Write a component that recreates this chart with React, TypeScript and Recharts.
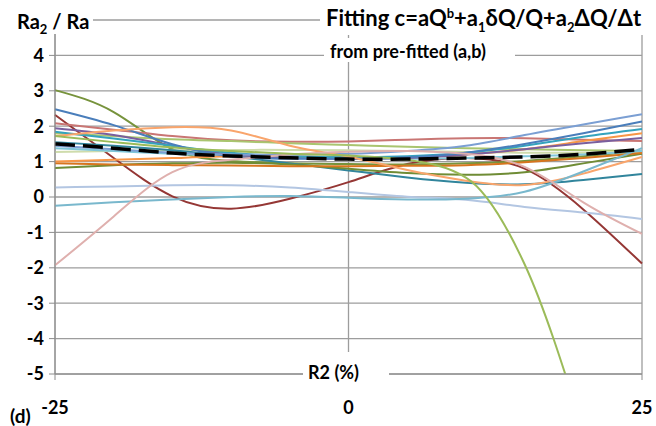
import React from 'react'
import { LineChart, Line, XAxis, YAxis, CartesianGrid } from 'recharts'

// R2 (%) sample positions
const xs = [-25, -20, -15, -10, -5, 0, 5, 10, 15, 20, 25]

// Ra2 / Ra curves, read at each x above
const darkRed = [2.32, 1.1, 0.02, -0.33, -0.05, 0.42, 0.93, 1.1, 0.8, -0.35, -1.88]
const olive = [3.02, 2.4, 1.35, 1.02, 0.95, 0.93, 0.92, 0.95, 1.02, 1.15, 1.3]
const blue = [2.48, 2.03, 1.49, 1.15, 1.08, 1.08, 1.12, 1.25, 1.5, 1.8, 2.13]
const rose = [2.08, 1.9, 1.72, 1.6, 1.56, 1.57, 1.62, 1.66, 1.66, 1.62, 1.58]
const purple = [1.94, 1.75, 1.45, 1.2, 1.1, 1.08, 1.1, 1.2, 1.35, 1.52, 1.67]
const aqua = [1.84, 1.65, 1.45, 1.25, 1.15, 1.12, 1.15, 1.25, 1.45, 1.7, 1.92]
const lightOrange = [1.72, 1.88, 1.97, 1.88, 1.45, 1.14, 0.76, 0.46, 0.34, 0.66, 1.13]
const orange = [1.0, 1.05, 1.1, 1.15, 1.15, 1.12, 1.12, 1.2, 1.35, 1.58, 1.8]
const darkOrange = [0.95, 0.92, 0.9, 0.89, 0.87, 0.87, 0.88, 0.9, 0.98, 1.1, 1.24]
const darkGreen = [0.82, 0.9, 0.95, 0.97, 0.92, 0.8, 0.68, 0.63, 0.7, 0.95, 1.22]
const paleBlue = [0.27, 0.3, 0.33, 0.33, 0.27, 0.14, 0.01, -0.08, -0.28, -0.44, -0.62]
const skyBlue = [-0.25, -0.15, -0.07, 0.0, 0.03, -0.02, -0.07, -0.05, 0.15, 0.72, 1.38]
const pink = [-1.93, -0.55, 0.7, 1.05, 1.2, 1.28, 1.3, 1.22, 0.85, -0.15, -1.04]
const steelBlue = [1.45, 1.35, 1.25, 1.2, 1.2, 1.22, 1.3, 1.45, 1.75, 2.05, 2.34]
const darkTeal = [1.55, 1.45, 1.32, 1.15, 0.95, 0.75, 0.55, 0.4, 0.36, 0.48, 0.65]
const paleGreen = [1.27, 1.3, 1.32, 1.33, 1.33, 1.32, 1.3, 1.27, 1.25, 1.25, 1.27]
const green = [1.8, 1.72, 1.63, 1.58, 1.52, 1.47, 1.42, 1.38, 1.35, 1.32, 1.3]
const lightAqua = [1.38, 1.3, 1.22, 1.15, 1.12, 1.1, 1.08, 1.1, 1.15, 1.2, 1.3]
const greenDrop = [1.72, 1.55, 1.4, 1.3, 1.22, 1.17, 1.05, 0.55, -1.9, -6.6, null]
const mean = [1.5, 1.38, 1.24, 1.16, 1.11, 1.07, 1.07, 1.1, 1.13, 1.21, 1.35]

const yTicks = [-5, -4, -3, -2, -1, 0, 1, 2, 3, 4, 5]
const xTicks = [-25, 0, 25]

const series = [
  { key: 'darkRed', vals: darkRed, color: '#953735' },
  { key: 'olive', vals: olive, color: '#77933c' },
  { key: 'rose', vals: rose, color: '#c97674' },
  { key: 'green', vals: green, color: '#a9c56f' },
  { key: 'paleGreen', vals: paleGreen, color: '#cfdcac' },
  { key: 'darkTeal', vals: darkTeal, color: '#31859c' },
  { key: 'lightAqua', vals: lightAqua, color: '#7fc6d9' },
  { key: 'darkGreen', vals: darkGreen, color: '#6f8c35' },
  { key: 'darkOrange', vals: darkOrange, color: '#d7751e' },
  { key: 'orange', vals: orange, color: '#f79646' },
  { key: 'purple', vals: purple, color: '#7a5f9e' },
  { key: 'aqua', vals: aqua, color: '#34a3bd' },
  { key: 'blue', vals: blue, color: '#4a7ebb' },
  { key: 'steelBlue', vals: steelBlue, color: '#7b9fd3' },
  { key: 'lightOrange', vals: lightOrange, color: '#f9a56c' },
  { key: 'paleBlue', vals: paleBlue, color: '#b3c6e2' },
  { key: 'skyBlue', vals: skyBlue, color: '#79b8cd' },
  { key: 'pink', vals: pink, color: '#dfb0ae' },
]

const data = xs.map((x, i) => {
  const row: any = { x, greenDrop: greenDrop[i], mean: mean[i] }
  series.forEach(s => { row[s.key] = s.vals[i] })
  return row
})

const bold: React.CSSProperties = { fontWeight: 700, color: '#000', whiteSpace: 'nowrap', lineHeight: 1 }
const tickStyle = { fill: '#000', fontSize: 18, fontWeight: 700, fontFamily: 'Lato' }

export default function App() {
  return (
    <div style={{ position: 'absolute', left: 0, top: 0, width: 656, height: 426, background: '#fff', fontFamily: 'Lato, sans-serif' }}>
      <LineChart width={656} height={426} data={data} margin={{ top: 20, right: 14, bottom: 6, left: 0 }}>
        <CartesianGrid stroke="#9d9d9d" strokeWidth={1.3} />
        <XAxis dataKey="x" type="number" domain={[-25, 25]} ticks={xTicks} height={46}
          stroke="#8c8c8c" tickSize={6} tickMargin={21} tick={tickStyle} />
        {/* the "5" label sits under the axis title box in the original */}
        <YAxis type="number" domain={[-5, 5]} ticks={yTicks} allowDataOverflow width={55}
          stroke="#8c8c8c" tickSize={6} tickMargin={5} tick={tickStyle}
          tickFormatter={v => (v === 5 ? '' : String(v))} />
        {series.map(s => (
          <Line key={s.key} dataKey={s.key} type="natural" stroke={s.color} strokeWidth={2}
            dot={false} isAnimationActive={false} />
        ))}
        <Line dataKey="greenDrop" type="monotone" stroke="#9bbb59" strokeWidth={2}
          dot={false} isAnimationActive={false} />
        <Line dataKey="mean" type="natural" stroke="#000" strokeWidth={3.5} strokeDasharray="20 8"
          dot={false} isAnimationActive={false} />
      </LineChart>

      <div style={{ ...bold, position: 'absolute', left: 8, top: 4, width: 85, height: 30, background: '#fff', fontSize: 20, paddingLeft: 9, paddingTop: 7, boxSizing: 'border-box' }}>
        Ra<sub style={{ fontSize: 13 }}>2</sub> / Ra
      </div>
      <div style={{ ...bold, position: 'absolute', left: 320, top: 0, width: 336, height: 35, background: '#fff', fontSize: 22, paddingLeft: 6, paddingTop: 7, boxSizing: 'border-box' }}>
        Fitting c=aQ<sup style={{ fontSize: 13 }}>b</sup>+a<sub style={{ fontSize: 13 }}>1</sub>δQ/Q+a<sub style={{ fontSize: 13 }}>2</sub>ΔQ/Δt
      </div>
      <div style={{ ...bold, position: 'absolute', left: 324, top: 38, width: 191, height: 24, background: '#fff', fontSize: 18, paddingLeft: 6, paddingTop: 4, boxSizing: 'border-box' }}>
        from pre-fitted (a,b)
      </div>
      <div style={{ ...bold, position: 'absolute', left: 303, top: 352, width: 86, height: 36, background: '#fff', fontSize: 18, paddingLeft: 5, paddingTop: 11, boxSizing: 'border-box' }}>
        R2 (%)
      </div>
      <div style={{ ...bold, position: 'absolute', left: 10, top: 406, fontSize: 19 }}>(d)</div>
    </div>
  )
}
